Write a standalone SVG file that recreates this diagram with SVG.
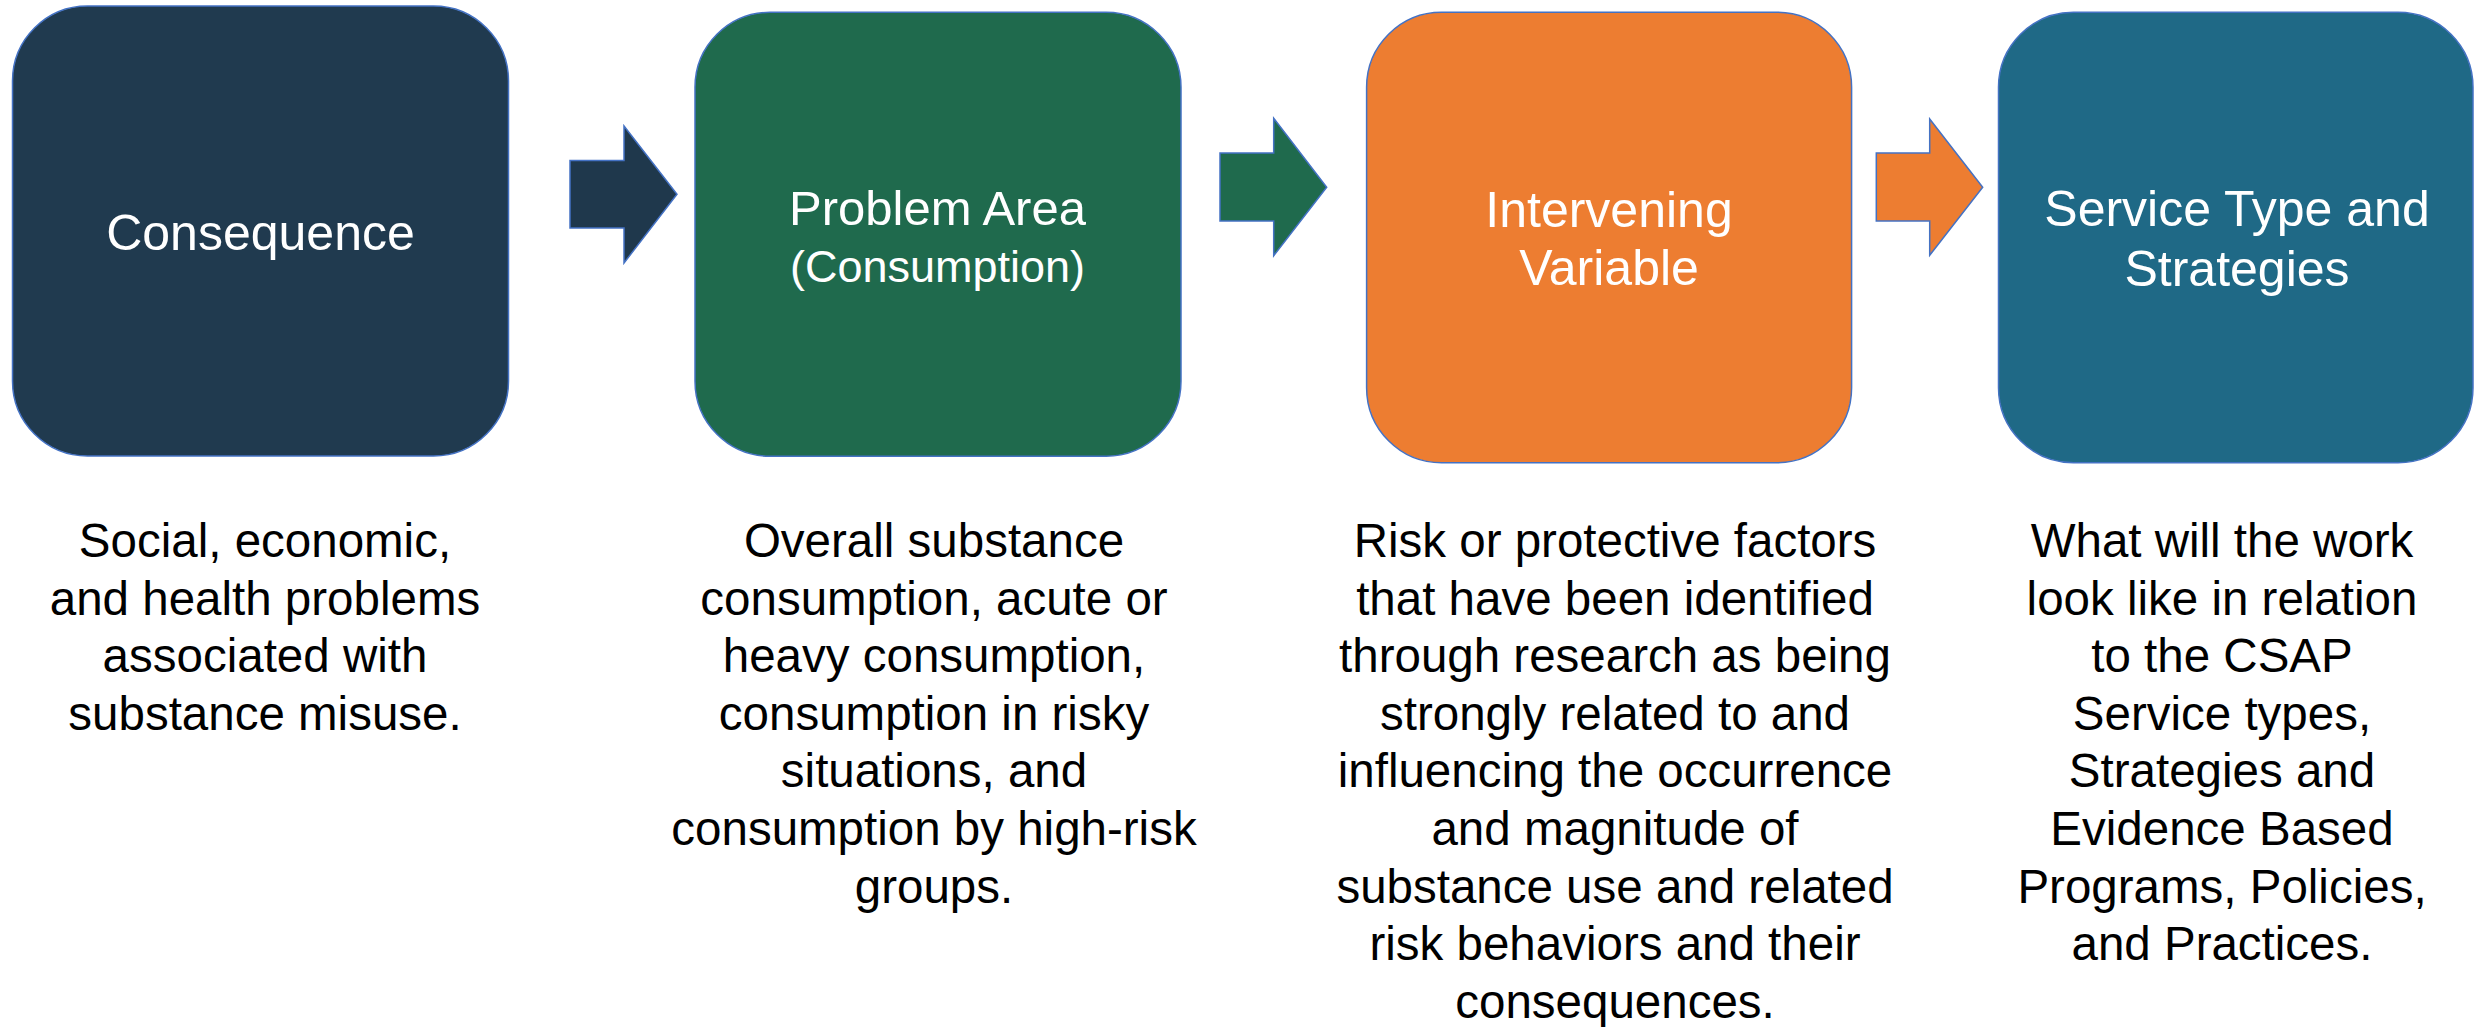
<svg xmlns="http://www.w3.org/2000/svg" width="2474" height="1027" viewBox="0 0 2474 1027">
<style>
.box{stroke:#4472C4;stroke-width:1.5}
.arr{stroke:#4472C4;stroke-width:1.5;stroke-linejoin:miter}
.title{font-family:"Liberation Sans",Arial,sans-serif;fill:#FFFFFF;text-anchor:middle}
.desc{font-family:"Liberation Sans",Arial,sans-serif;fill:#000000;text-anchor:middle;font-size:47.5px}
</style>
<rect width="2474" height="1027" fill="#FFFFFF"/>
<g id="node-consequence">
<rect class="box" x="12.5" y="6" width="496" height="450" rx="75" ry="75" fill="#203A4F"/>
<text class="title" x="260.5" y="250" font-size="50">Consequence</text>
<text class="desc" x="265"><tspan x="265" y="557">Social, economic,</tspan><tspan x="265" y="614.6">and health problems</tspan><tspan x="265" y="672.2">associated with</tspan><tspan x="265" y="729.8">substance misuse.</tspan></text>
</g>
<g id="node-problem-area">
<rect class="box" x="695" y="12.3" width="486" height="444" rx="75" ry="75" fill="#1F6A4D"/>
<text class="title" x="937.5" y="225" font-size="49">Problem Area</text>
<text class="title" x="937.5" y="282" font-size="45">(Consumption)</text>
<text class="desc"><tspan x="934" y="557">Overall substance</tspan><tspan x="934" y="614.6">consumption, acute or</tspan><tspan x="934" y="672.2">heavy consumption,</tspan><tspan x="934" y="729.8">consumption in risky</tspan><tspan x="934" y="787.4">situations, and</tspan><tspan x="934" y="845">consumption by high-risk</tspan><tspan x="934" y="902.6">groups.</tspan></text>
</g>
<g id="node-intervening-variable">
<rect class="box" x="1366.6" y="12.3" width="485" height="450.4" rx="75" ry="75" fill="#ED7D31"/>
<text class="title" x="1609" y="226.7" font-size="50">Intervening</text>
<text class="title" x="1609" y="285" font-size="50">Variable</text>
<text class="desc"><tspan x="1615" y="557">Risk or protective factors</tspan><tspan x="1615" y="614.6">that have been identified</tspan><tspan x="1615" y="672.2">through research as being</tspan><tspan x="1615" y="729.8">strongly related to and</tspan><tspan x="1615" y="787.4">influencing the occurrence</tspan><tspan x="1615" y="845">and magnitude of</tspan><tspan x="1615" y="902.6">substance use and related</tspan><tspan x="1615" y="960.2">risk behaviors and their</tspan><tspan x="1615" y="1017.8">consequences.</tspan></text>
</g>
<g id="node-service-type">
<rect class="box" x="1998.5" y="12.3" width="474.5" height="450.4" rx="75" ry="75" fill="#1F6986"/>
<text class="title" x="2237" y="226" font-size="50">Service Type and</text>
<text class="title" x="2237" y="286" font-size="50">Strategies</text>
<text class="desc"><tspan x="2222" y="557">What will the work</tspan><tspan x="2222" y="614.6">look like in relation</tspan><tspan x="2222" y="672.2">to the CSAP</tspan><tspan x="2222" y="729.8">Service types,</tspan><tspan x="2222" y="787.4">Strategies and</tspan><tspan x="2222" y="845">Evidence Based</tspan><tspan x="2222" y="902.6">Programs, Policies,</tspan><tspan x="2222" y="960.2">and Practices.</tspan></text>
</g>
<g id="connectors">
<polygon class="arr" fill="#1F384C" points="570,160.5 624,160.5 624,126 677,194.3 624,263 624,228 570,228"/>
<polygon class="arr" fill="#1F6A4D" points="1220,153 1273.7,153 1273.7,118.3 1326.7,187.3 1273.7,255.7 1273.7,221 1220,221"/>
<polygon class="arr" fill="#ED7D31" points="1876.3,153 1929.7,153 1929.7,119 1982.7,187.3 1929.7,255.3 1929.7,221 1876.3,221"/>
</g>
</svg>
